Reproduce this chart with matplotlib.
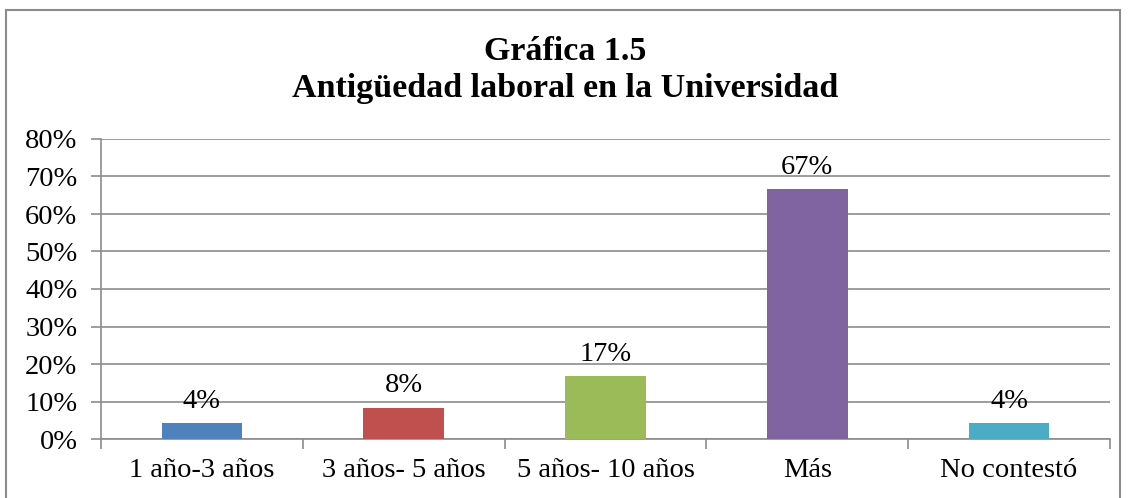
import matplotlib.pyplot as plt
from matplotlib.patches import Rectangle

# Data
categorias = ["1 año-3 años", "3 años- 5 años", "5 años- 10 años", "Más", "No contestó"]
valores = [4.17, 8.33, 16.67, 66.67, 4.17]
etiquetas = ["4%", "8%", "17%", "67%", "4%"]
colores = ["#4F81BD", "#C0504D", "#9BBB59", "#8064A2", "#4BACC6"]
yticks = [0, 10, 20, 30, 40, 50, 60, 70, 80]

plt.rcParams['font.family'] = ['Liberation Serif', 'DejaVu Serif']

fig = plt.figure(figsize=(11.28, 4.98), dpi=100)
ax = fig.add_axes([101 / 1128, 1 - 439 / 498, (1110 - 101) / 1128, 300 / 498])

x = range(len(categorias))
ax.bar(x, valores, width=0.4, color=colores, zorder=3)
for i, (v, t) in enumerate(zip(valores, etiquetas)):
    ax.text(i, v + 2.5, t, ha='center', va='bottom', fontsize=20.5, zorder=4)

ax.set_xlim(-0.5, len(categorias) - 0.5)
ax.set_ylim(0, 80)
ax.set_yticks(yticks)
ax.set_yticklabels([f"{t}%" for t in yticks], fontsize=20.5)
ax.yaxis.grid(True, color='#8c8c8c', linewidth=1.2, zorder=0)

ax.set_xticks([i - 0.5 for i in range(len(categorias) + 1)])
ax.set_xticklabels([])
ax.set_xticks(list(x), minor=True)
ax.set_xticklabels(categorias, minor=True, fontsize=20.5)
ax.tick_params(axis='x', which='minor', length=0, pad=14)
ax.tick_params(axis='x', which='major', length=7, color='#8c8c8c', width=1.2)
ax.tick_params(axis='y', length=7, color='#8c8c8c', width=1.2, pad=10)

for s in ['top', 'right']:
    ax.spines[s].set_visible(False)
for s in ['left', 'bottom']:
    ax.spines[s].set_color('#8c8c8c')
    ax.spines[s].set_linewidth(1.2)

fig.text(565 / 1128, 1 - 51 / 498, "Gráfica 1.5", ha='center', va='center',
         fontsize=24.5, fontweight='bold')
fig.text(565 / 1128, 1 - 89 / 498, "Antigüedad laboral en la Universidad", ha='center',
         va='center', fontsize=24.5, fontweight='bold')

# outer frame
fig.patches.append(Rectangle((6 / 1128, -0.05), (1120 - 6) / 1128, 1 - 10 / 498 + 0.05,
                             transform=fig.transFigure, fill=False,
                             edgecolor='#8c8c8c', linewidth=1.5))

fig.savefig("out.png", dpi=100)
